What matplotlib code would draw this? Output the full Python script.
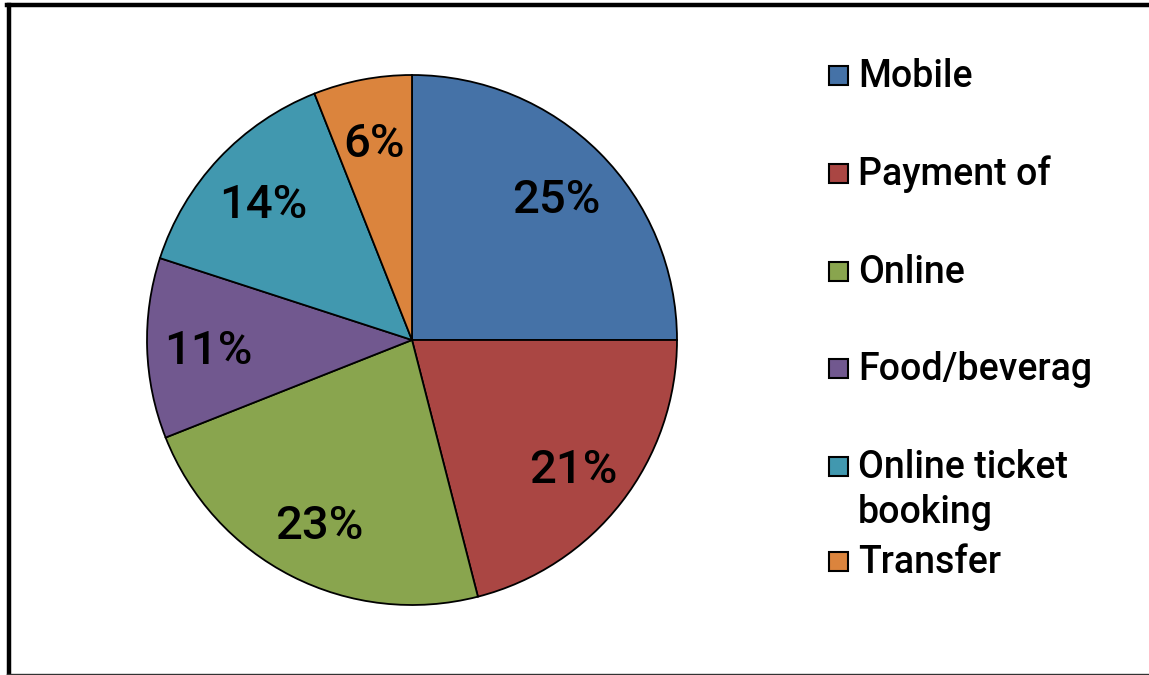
import matplotlib.pyplot as plt
from matplotlib.patches import Rectangle
from matplotlib.lines import Line2D

plt.rcParams['font.family'] = ['Roboto', 'DejaVu Sans']
plt.rcParams['font.weight'] = 'medium'

categories = ["Mobile", "Payment of", "Online", "Food/beverag",
              "Online ticket\nbooking", "Transfer"]
shares = [25, 21, 23, 11, 14, 6]
colors = ["#4572A7", "#AA4643", "#89A54E", "#71588F", "#4198AF", "#DB843D"]

W, H = 1149, 675
fig = plt.figure(figsize=(W / 100, H / 100), dpi=100)

# pie axes: centre (412, 340), radius 265 px
cx, cy, r = 412, 340, 265
ax = fig.add_axes([(cx - r) / W, (H - cy - r) / H, 2 * r / W, 2 * r / H])
wedges, texts, autotexts = ax.pie(
    shares, colors=colors, startangle=90, counterclock=False,
    autopct="%d%%", pctdistance=0.77,
    wedgeprops=dict(edgecolor="black", linewidth=1.3),
    textprops=dict(fontsize=34, color="black"))
for t in autotexts:
    t.set_verticalalignment("center_baseline")
ax.set_xlim(-1, 1)
ax.set_ylim(-1, 1)
ax.set_aspect("equal")

# hand-placed legend (first-line baselines in px from top)
baselines = [87, 185, 283, 380, 478, 573]
line_step = 45
for lab, col, yb in zip(categories, colors, baselines):
    sq = Rectangle((829 / W, 1 - (yb - 2) / H), 19 / W, 19 / H,
                   transform=fig.transFigure, facecolor=col,
                   edgecolor="black", linewidth=1.5)
    fig.add_artist(sq)
    for i, line in enumerate(lab.split("\n")):
        fig.text(858 / W, 1 - (yb + i * line_step) / H, line, fontsize=27,
                 va="baseline", ha="left")

# outer frame (runs off the right edge)
fig.add_artist(Line2D([9 / W, 9 / W], [1 - 673.5 / H, 1 - 4.5 / H],
                      transform=fig.transFigure, color="black", linewidth=3.2))
fig.add_artist(Line2D([7 / W, 1.0], [1 - 4.5 / H, 1 - 4.5 / H],
                      transform=fig.transFigure, color="black", linewidth=3.2))
fig.add_artist(Line2D([7 / W, 1.0], [1 - 673.5 / H, 1 - 673.5 / H],
                      transform=fig.transFigure, color="#333333", linewidth=1.0))

fig.savefig("out.png", dpi=100)
